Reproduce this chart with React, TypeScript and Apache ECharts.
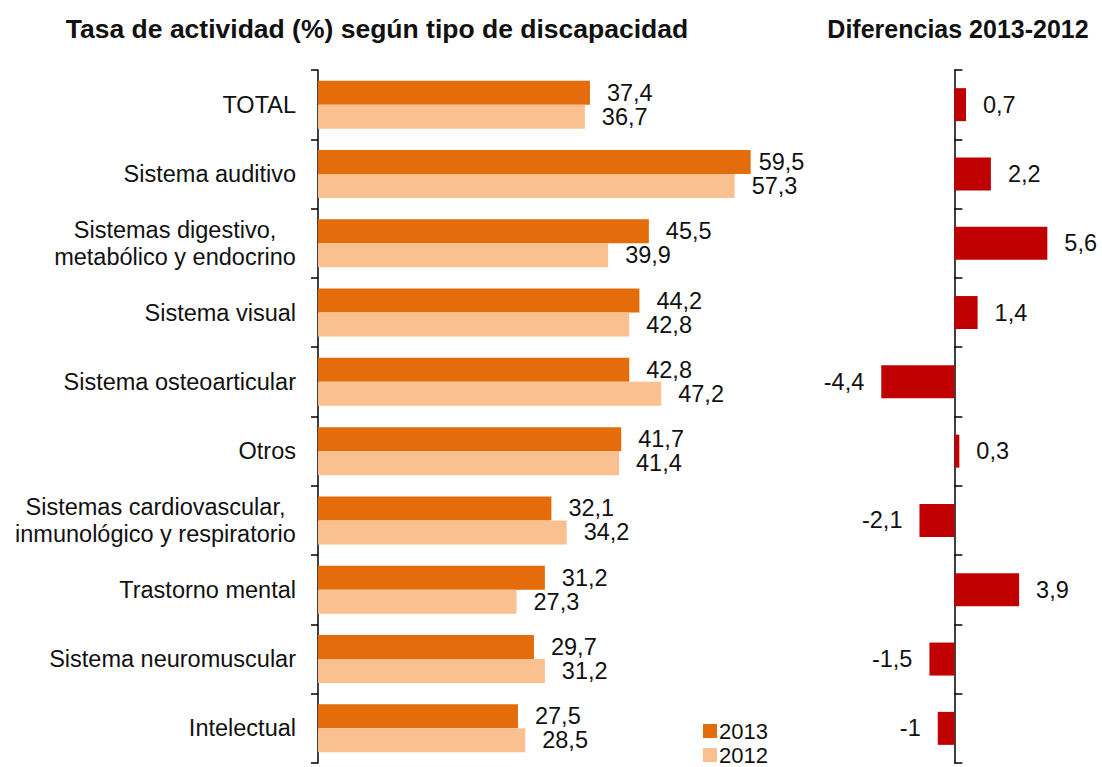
import React, { useEffect, useRef } from "react";
import * as echarts from "echarts";

const categories = [
  "TOTAL",
  "Sistema auditivo",
  "Sistemas digestivo,\nmetabólico y endocrino",
  "Sistema visual",
  "Sistema osteoarticular",
  "Otros",
  "Sistemas cardiovascular,\ninmunológico y respiratorio",
  "Trastorno mental",
  "Sistema neuromuscular",
  "Intelectual",
];
const values2013 = [37.4, 59.5, 45.5, 44.2, 42.8, 41.7, 32.1, 31.2, 29.7, 27.5];
const values2012 = [36.7, 57.3, 39.9, 42.8, 47.2, 41.4, 34.2, 27.3, 31.2, 28.5];
const differences = [0.7, 2.2, 5.6, 1.4, -4.4, 0.3, -2.1, 3.9, -1.5, -1];

const FONT = "'Liberation Sans', Arial, sans-serif";
const FS = 23.5;
const fmt = (v: number) => String(v).replace(".", ",");

export default function App() {
  const ref = useRef<HTMLDivElement>(null);
  useEffect(() => {
    document.body.style.margin = "0";
    const chart = echarts.init(ref.current!, undefined, { renderer: "svg" });

    // measure multi-line labels so each line can be centred inside its block
    const ctx = document.createElement("canvas").getContext("2d")!;
    ctx.font = `${FS}px ${FONT}`;
    const rich: Record<string, any> = {};
    categories.forEach((c, i) => {
      if (c.includes("\n")) {
        const w = Math.max(...c.split("\n").map((l) => ctx.measureText(l).width));
        rich["m" + i] = {
          width: Math.ceil(w),
          align: "center",
          fontSize: FS,
          fontFamily: FONT,
          color: "#111",
          lineHeight: 27,
        };
      }
    });

    const labelStyle = { fontSize: FS, fontFamily: FONT, color: "#111" };
    const legendBase = {
      orient: "vertical",
      left: 703,
      padding: 0,
      itemWidth: 14,
      itemHeight: 14,
      icon: "rect",
      textStyle: { fontSize: 22, fontFamily: FONT, color: "#111", padding: [0, 0, 0, -3] },
    };
    chart.setOption({
      animation: false,
      textStyle: { fontFamily: FONT },
      graphic: [
        {
          type: "text",
          x: 377,
          y: 29,
          style: {
            text: "Tasa de actividad (%) según tipo de discapacidad",
            fontSize: 26.5,
            fontWeight: "bold",
            fontFamily: FONT,
            fill: "#111",
            align: "center",
            verticalAlign: "middle",
          },
        },
        {
          type: "text",
          x: 958,
          y: 29,
          style: {
            text: "Diferencias 2013-2012",
            fontSize: 25,
            fontWeight: "bold",
            fontFamily: FONT,
            fill: "#111",
            align: "center",
            verticalAlign: "middle",
          },
        },
      ],
      legend: [
        { ...legendBase, data: ["2013"], top: 720 },
        { ...legendBase, data: ["2012"], top: 744 },
      ],
      grid: [
        { left: 318, top: 70, width: 509, height: 693 },
        { left: 854.7, top: 70, width: 199.3, height: 693 },
      ],
      xAxis: [
        { type: "value", gridIndex: 0, min: 0, max: 70, show: false },
        { type: "value", gridIndex: 1, min: -6, max: 6, show: false },
      ],
      yAxis: [
        {
          type: "category",
          gridIndex: 0,
          data: categories,
          inverse: true,
          axisLine: { show: true, lineStyle: { color: "#000", width: 1.5 } },
          axisTick: { show: true, length: 7, lineStyle: { color: "#000", width: 1.5 } },
          axisLabel: {
            fontSize: FS,
            fontFamily: FONT,
            color: "#111",
            margin: 22,
            lineHeight: 27,
            interval: 0,
            rich,
            formatter: (value: string) => {
              const i = categories.indexOf(value);
              if (value.includes("\n")) {
                return value
                  .split("\n")
                  .map((l) => `{m${i}|${l}}`)
                  .join("\n");
              }
              return value;
            },
          },
        },
        {
          type: "category",
          gridIndex: 1,
          data: categories,
          inverse: true,
          axisLine: { show: true, onZero: true, lineStyle: { color: "#000", width: 1.5 } },
          axisTick: { show: true, inside: true, length: 8, lineStyle: { color: "#000", width: 1.5 } },
          axisLabel: { show: false },
        },
      ],
      series: [
        {
          name: "2013",
          type: "bar",
          xAxisIndex: 0,
          yAxisIndex: 0,
          barWidth: 24,
          barGap: "0%",
          itemStyle: { color: "#E46C0A" },
          data: values2013.map((v, i) =>
            i === 1 ? { value: v, label: { distance: 8 } } : v
          ),
          label: {
            show: true,
            position: "right",
            distance: 17,
            formatter: (p: any) => fmt(p.value),
            ...labelStyle,
          },
        },
        {
          name: "2012",
          type: "bar",
          xAxisIndex: 0,
          yAxisIndex: 0,
          barWidth: 24,
          barGap: "0%",
          itemStyle: { color: "#FAC090" },
          data: values2012,
          label: {
            show: true,
            position: "right",
            distance: 17,
            formatter: (p: any) => fmt(p.value),
            ...labelStyle,
          },
        },
        {
          name: "Diferencia",
          type: "bar",
          xAxisIndex: 1,
          yAxisIndex: 1,
          barWidth: 33,
          itemStyle: { color: "#C00000" },
          data: differences.map((v) => ({
            value: v,
            label: { position: v < 0 ? "left" : "right" },
          })),
          label: {
            show: true,
            distance: 17,
            formatter: (p: any) => fmt(p.value),
            ...labelStyle,
          },
        },
      ],
    });
    return () => chart.dispose();
  }, []);
  return <div ref={ref} style={{ width: 1102, height: 767 }} />;
}
